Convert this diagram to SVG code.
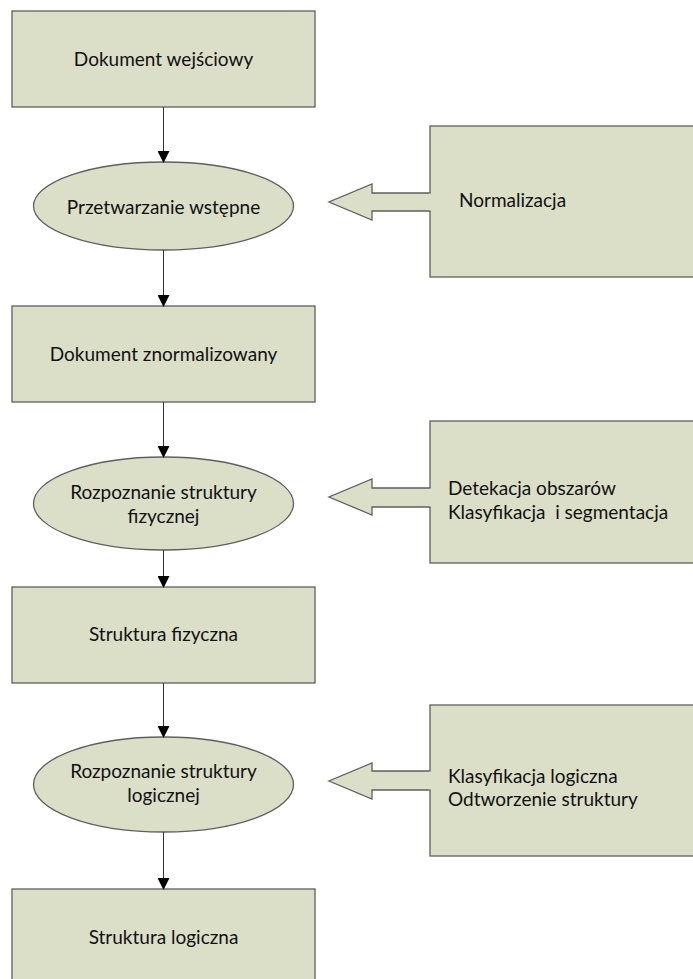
<svg xmlns="http://www.w3.org/2000/svg" width="693" height="979" viewBox="0 0 693 979">
  <style>
    .box { fill: #dcdfc8; stroke: #5f5f5f; stroke-width: 1.3; }
    .lbl { font-family: Lato, "Liberation Sans", sans-serif; font-size: 19px; fill: #111; white-space: pre; }
    .mid { text-anchor: middle; }
    .flow { stroke: #333; stroke-width: 1; fill: none; }
  </style>
  <defs>
    <marker id="tri" viewBox="0 0 12 12" refX="11" refY="6" markerWidth="12" markerHeight="12" markerUnits="userSpaceOnUse" orient="auto">
      <path d="M0,0 L12,6 L0,12 Z" fill="#000"/>
    </marker>
  </defs>

  <!-- main process column -->
  <g id="doc-input">
    <rect class="box" x="12" y="11" width="303" height="96"/>
    <text class="lbl mid" x="163.5" y="66">Dokument wejściowy</text>
  </g>
  <g id="preprocess">
    <ellipse class="box" cx="163.5" cy="206" rx="130" ry="44"/>
    <text class="lbl mid" x="163.5" y="214">Przetwarzanie wstępne</text>
  </g>
  <g id="doc-normalized">
    <rect class="box" x="12" y="306" width="303" height="96"/>
    <text class="lbl mid" x="163.5" y="361">Dokument znormalizowany</text>
  </g>
  <g id="physical-recognition">
    <ellipse class="box" cx="163.5" cy="503.5" rx="130" ry="46.5"/>
    <text class="lbl mid" x="163.5" y="499">Rozpoznanie struktury</text>
    <text class="lbl mid" x="163.5" y="523">fizycznej</text>
  </g>
  <g id="physical-structure">
    <rect class="box" x="12" y="587" width="303" height="96"/>
    <text class="lbl mid" x="163.5" y="641">Struktura fizyczna</text>
  </g>
  <g id="logical-recognition">
    <ellipse class="box" cx="163.5" cy="784.5" rx="130" ry="47.5"/>
    <text class="lbl mid" x="163.5" y="778">Rozpoznanie struktury</text>
    <text class="lbl mid" x="163.5" y="802">logicznej</text>
  </g>
  <g id="logical-structure">
    <rect class="box" x="12" y="889" width="303" height="100"/>
    <text class="lbl mid" x="163.5" y="944">Struktura logiczna</text>
  </g>

  <!-- side operation boxes with block arrows -->
  <g id="normalization">
    <rect class="box" x="430" y="126" width="270" height="151"/>
    <path class="box" d="M430.5,193 L372,193 L372,184 L329,202 L372,220 L372,211 L430.5,211"/>
    <rect x="429" y="193.7" width="3" height="16.6" fill="#dcdfc8"/>
    <text class="lbl" x="459" y="207">Normalizacja</text>
  </g>
  <g id="segmentation">
    <rect class="box" x="430" y="421" width="270" height="142"/>
    <path class="box" d="M430.5,488 L372,488 L372,479 L329,497 L372,515 L372,507 L430.5,507"/>
    <rect x="429" y="488.7" width="3" height="17.6" fill="#dcdfc8"/>
    <text class="lbl" x="448" y="495">Detekacja obszarów</text>
    <text class="lbl" x="448" y="519" xml:space="preserve">Klasyfikacja  i segmentacja</text>
  </g>
  <g id="logical-classification">
    <rect class="box" x="430" y="705" width="270" height="151"/>
    <path class="box" d="M430.5,771 L372,771 L372,763 L329,781 L372,799 L372,790 L430.5,790"/>
    <rect x="429" y="771.7" width="3" height="17.6" fill="#dcdfc8"/>
    <text class="lbl" x="448" y="783">Klasyfikacja logiczna</text>
    <text class="lbl" x="448" y="806">Odtworzenie struktury</text>
  </g>

  <!-- connectors -->
  <g id="connectors">
    <line class="flow" x1="163.5" y1="107" x2="163.5" y2="162" marker-end="url(#tri)"/>
    <line class="flow" x1="163.5" y1="250" x2="163.5" y2="306" marker-end="url(#tri)"/>
    <line class="flow" x1="163.5" y1="402" x2="163.5" y2="457" marker-end="url(#tri)"/>
    <line class="flow" x1="163.5" y1="550" x2="163.5" y2="587" marker-end="url(#tri)"/>
    <line class="flow" x1="163.5" y1="683" x2="163.5" y2="737" marker-end="url(#tri)"/>
    <line class="flow" x1="163.5" y1="832" x2="163.5" y2="889" marker-end="url(#tri)"/>
  </g>
</svg>
